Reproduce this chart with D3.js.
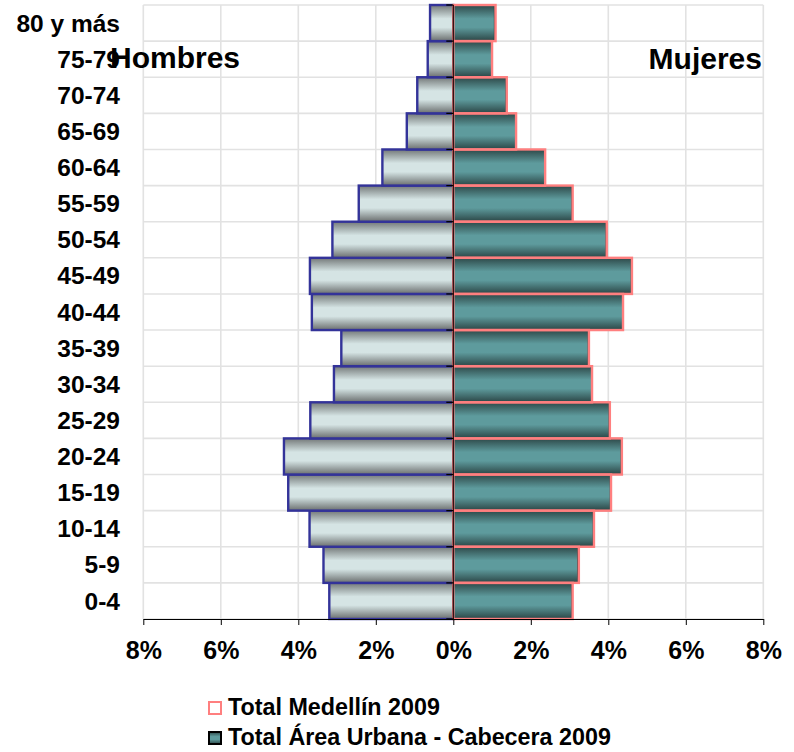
<!DOCTYPE html>
<html><head><meta charset="utf-8">
<script src="https://cdn.jsdelivr.net/npm/d3@7"></script>
<style>body{margin:0;background:#fff}svg{display:block}text{font-family:"Liberation Sans",Arial,sans-serif;font-weight:bold;fill:#000}</style>
</head><body>
<svg id="c" width="794" height="752"></svg>
<script>
// Age groups from youngest to oldest
const categories = ["0-4","5-9","10-14","15-19","20-24","25-29","30-34","35-39","40-44","45-49","50-54","55-59","60-64","65-69","70-74","75-79","80 y más"];
// Percent of population (Hombres shown to the left)
const hombres = [3.20,3.35,3.71,4.26,4.37,3.69,3.08,2.89,3.65,3.70,3.12,2.44,1.83,1.20,0.93,0.66,0.60];
const mujeresMedellin = [3.08,3.24,3.63,4.07,4.35,4.04,3.58,3.50,4.38,4.61,3.96,3.08,2.37,1.62,1.38,1.00,1.09];
const mujeresCabecera = [3.06,3.21,3.61,4.05,4.33,4.02,3.57,3.48,4.37,4.59,3.94,3.06,2.36,1.61,1.36,0.99,1.06];
const xTicks = [-8,-6,-4,-2,0,2,4,6,8];
const legendLabels = ["Total Medellín 2009","Total Área Urbana - Cabecera 2009"];

const svg = d3.select("#c");
const x = d3.scaleLinear().domain([-8,8]).range([143.3,763.3]);
const y = d3.scaleBand().domain(categories.slice().reverse()).range([5,619]).padding(0);

const defs = svg.append("defs");
function grad(id, edge1, mid, edge2){
  const g = defs.append("linearGradient").attr("id",id).attr("x1",0).attr("y1",0).attr("x2",0).attr("y2",1);
  g.append("stop").attr("offset","0%").attr("stop-color",edge1);
  g.append("stop").attr("offset","38%").attr("stop-color",mid);
  g.append("stop").attr("offset","50%").attr("stop-color",mid);
  g.append("stop").attr("offset","62%").attr("stop-color",mid);
  g.append("stop").attr("offset","100%").attr("stop-color",edge2);
}
grad("gGray","#737878","#d5e4e4","#6a6e6e");
grad("gTeal","#2d4848","#5e9b9d","#2b4545");

// gridlines
const grid = svg.append("g");
grid.selectAll(".v").data(xTicks).join("line")
  .attr("x1",d=>x(d)).attr("x2",d=>x(d)).attr("y1",5).attr("y2",619)
  .attr("stroke","#e2e2e2").attr("stroke-width",1.6);
const bounds = y.domain().map(c=>y(c)).concat([y.range()[1]]);
grid.selectAll(".h").data(bounds).join("line")
  .attr("x1",x(-8)).attr("x2",x(8)).attr("y1",d=>d).attr("y2",d=>d)
  .attr("stroke","#e2e2e2").attr("stroke-width",1.6);

const rows = categories.map((c,i)=>({c, h:hombres[i], m:mujeresMedellin[i], k:mujeresCabecera[i]}));

// hombres bars
svg.append("g").selectAll("rect").data(rows).join("rect")
  .attr("x",d=>x(-d.h)).attr("width",d=>x(0)-x(-d.h))
  .attr("y",d=>y(d.c)).attr("height",y.bandwidth())
  .attr("fill","url(#gGray)").attr("stroke","#333399").attr("stroke-width",2.4);

// mujeres cabecera (filled)
svg.append("g").selectAll("rect").data(rows).join("rect")
  .attr("x",x(0)).attr("width",d=>x(d.k)-x(0))
  .attr("y",d=>y(d.c)).attr("height",y.bandwidth())
  .attr("fill","url(#gTeal)").attr("stroke","#1e3333").attr("stroke-width",1);

// mujeres Medellín (outline)
svg.append("g").selectAll("rect").data(rows).join("rect")
  .attr("x",x(0)).attr("width",d=>x(d.m)-x(0))
  .attr("y",d=>y(d.c)).attr("height",y.bandwidth())
  .attr("fill","none").attr("stroke","#ff7f7f").attr("stroke-width",2.4);

// central axis with ticks
svg.append("line").attr("x1",x(0)).attr("x2",x(0)).attr("y1",5).attr("y2",619)
  .attr("stroke","#2a0f0f").attr("stroke-width",1.3);
svg.append("g").selectAll("line").data(bounds).join("line")
  .attr("x1",x(0)-7).attr("x2",x(0)).attr("y1",d=>d).attr("y2",d=>d)
  .attr("stroke","#000").attr("stroke-width",1.3);

// category labels
svg.append("g").selectAll("text").data(categories).join("text")
  .attr("x",120).attr("y",d=>y(d)+y.bandwidth()/2+8.6)
  .attr("text-anchor","end").style("font-size","24.5px").text(d=>d);

// x axis
const xa = svg.append("g").attr("transform","translate(0,619)")
  .call(d3.axisBottom(x).tickValues(xTicks).tickSize(6).tickSizeOuter(0).tickFormat(d=>Math.abs(d)+"%"));
xa.select(".domain").attr("stroke","#000").attr("stroke-width",1);
xa.selectAll(".tick line").attr("stroke","#000");
xa.selectAll(".tick text").attr("y",40).attr("dy",0)
  .style("font-size","25px").style("font-family","\"Liberation Sans\",Arial,sans-serif").style("font-weight","bold").attr("fill","#000");

// side titles
svg.append("text").attr("x",110).attr("y",68).style("font-size","30px").text("Hombres");
svg.append("text").attr("x",762).attr("y",69).attr("text-anchor","end").style("font-size","30px").text("Mujeres");

// legend
const lg = svg.append("g");
lg.append("rect").attr("x",209).attr("y",702).attr("width",12).attr("height",12)
  .attr("fill","#fff").attr("stroke","#ff7f7f").attr("stroke-width",2);
lg.append("rect").attr("x",209).attr("y",732).attr("width",12).attr("height",12)
  .attr("fill","url(#gTeal)").attr("stroke","#000").attr("stroke-width",2);
lg.selectAll("text").data(legendLabels).join("text")
  .attr("x",228).attr("y",(d,i)=>715+i*30).style("font-size","23.3px").text(d=>d);
</script>
</body></html>
